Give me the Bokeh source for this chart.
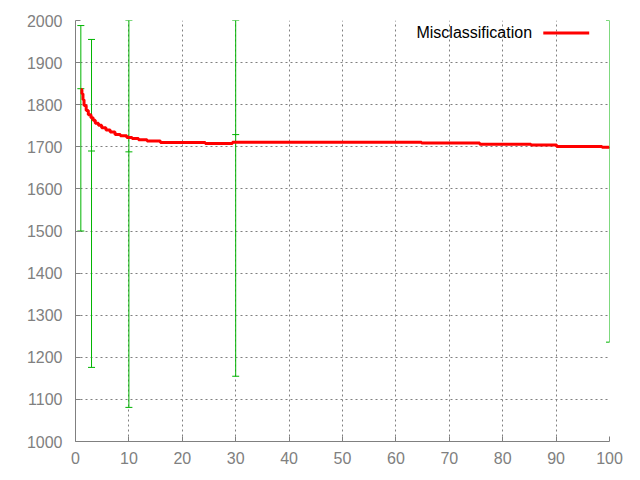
from bokeh.plotting import figure
from bokeh.models import (ColumnDataSource, Whisker, TeeHead, Range1d, FixedTicker,
                          Label, Arrow)
from bokeh.embed import file_html
from bokeh.resources import INLINE

# --- data ---
x_ticks = [0, 10, 20, 30, 40, 50, 60, 70, 80, 90, 100]
y_ticks = [1000, 1100, 1200, 1300, 1400, 1500, 1600, 1700, 1800, 1900, 2000]

# red staircase curve (Misclassification)
curve_x = [1, 1.2, 1.4, 1.6, 2.0, 2.4, 2.9, 3.3, 3.7, 4.3, 4.9, 5.7, 6.5, 7.4, 8.4,
           9.6, 10.6, 11.8, 13.4, 15.9, 24.3, 29.4, 64.8, 75.7, 85.3, 90.1, 98.6, 100]
curve_y = [1836, 1826, 1812, 1798, 1786, 1776, 1769, 1763, 1756, 1751, 1745, 1740,
           1735, 1729, 1726, 1722, 1720, 1717, 1714, 1710, 1708, 1711, 1709, 1706,
           1704, 1701, 1699, 1699]

# green error bars
err_x = [1, 3, 10, 30, 100]
err_mid = [1838, 1690, 1688, 1729, 1698]
err_low = [1500, 1176, 1081, 1155, 1236]
err_high = [1988, 1955, 2000, 2000, 2000]

legend_label = "Misclassification"

GREEN = "#00b400"
GRAY = "#808080"
FONT = "Liberation Sans"

p = figure(width=632, height=472, output_backend="svg", toolbar_location=None,
           x_range=Range1d(0, 100), y_range=Range1d(1000, 2000),
           min_border_left=75, min_border_right=23, min_border_top=20,
           min_border_bottom=31)
p.outline_line_color = None
p.background_fill_color = "white"
p.border_fill_color = "white"

for ax in (p.xaxis[0], p.yaxis[0]):
    ax.axis_line_color = GRAY
    ax.axis_line_width = 1
    ax.major_tick_line_color = GRAY
    ax.major_tick_in = 5
    ax.major_tick_out = 0
    ax.minor_tick_line_color = None
    ax.major_label_text_color = GRAY
    ax.major_label_text_font = FONT
    ax.major_label_text_font_size = "16px"
p.xaxis.ticker = FixedTicker(ticks=x_ticks)
p.yaxis.ticker = FixedTicker(ticks=y_ticks)
p.xaxis.major_label_standoff = 10
p.yaxis.major_label_standoff = 13

for g in (p.xgrid[0], p.ygrid[0]):
    g.grid_line_color = GRAY
    g.grid_line_dash = "2 3"
    g.grid_line_width = 1
p.xgrid.ticker = FixedTicker(ticks=x_ticks)
p.ygrid.ticker = FixedTicker(ticks=y_ticks)

# error bars
src = ColumnDataSource(dict(x=err_x, mid=err_mid, low=err_low, high=err_high))
w = Whisker(base="x", upper="high", lower="low", source=src,
            line_color=GREEN, line_width=1,
            upper_head=TeeHead(size=7, line_color=GREEN, line_width=1),
            lower_head=TeeHead(size=7, line_color=GREEN, line_width=1))
p.add_layout(w)
p.scatter("x", "mid", source=src, marker="dash", size=7, line_color=GREEN,
          line_width=1)

# curve
p.step(curve_x, curve_y, mode="after", line_color="#ff0000", line_width=3)

# legend (gnuplot style: text then sample)
p.add_layout(Label(x=85.5, y=1971, text=legend_label, text_align="right",
                   text_baseline="alphabetic", text_font=FONT,
                   text_font_size="16px", text_color="#000000"))
p.add_layout(Arrow(x_start=87.6, y_start=1970.5, x_end=96.2, y_end=1970.5,
                   start=None, end=None, line_color="#ff0000", line_width=3))

open("out.html", "w").write(file_html(p, INLINE))
